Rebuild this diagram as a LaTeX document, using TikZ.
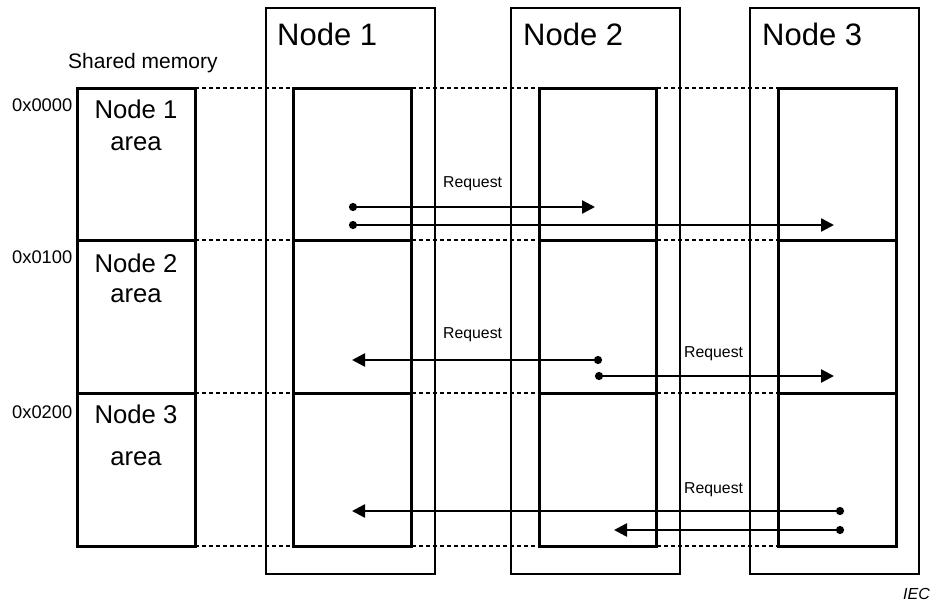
\documentclass[tikz,border=0pt]{standalone}
\usepackage{fontspec}
\setmainfont{Liberation Sans}
\usetikzlibrary{arrows.meta}
\begin{document}
\begin{tikzpicture}[x=1pt,y=-1pt,
 outerbox/.style={draw,line width=1.5pt,inner sep=0,outer sep=0,anchor=north west},
 innerbox/.style={draw,line width=3pt,fill=white,inner sep=0,outer sep=0,anchor=north west},
 divider/.style={line width=3pt},
 sep/.style={line width=1.5pt,dash pattern=on 4pt off 3pt},
 req/.style={line width=2.5pt,{Circle[length=8pt,width=8pt]}-{Triangle[length=13pt,width=13pt]}},
 reqto/.style={line width=2.5pt,-{Triangle[length=13pt,width=13pt]}},
 title/.style={font=\fontsize{31}{31}\selectfont,anchor=base west,inner sep=0},
 area/.style={font=\fontsize{25.7}{30}\selectfont,anchor=base,inner sep=0},
 addr/.style={font=\fontsize{18.3}{20}\selectfont,anchor=base west,inner sep=0},
 lbl/.style={font=\fontsize{15.8}{17}\selectfont,anchor=base west,inner sep=0}]
\useasboundingbox[fill=white] (0,0) rectangle (938,603);
% outer node boxes
\node[outerbox,minimum width=169pt,minimum height=566pt] (o1) at (266,8) {};
\node[outerbox,minimum width=169pt,minimum height=566pt] (o2) at (511,8) {};
\node[outerbox,minimum width=169pt,minimum height=566pt] (o3) at (750,8) {};
% dashed address lines
\foreach \yy in {88,240,393,546} \draw[sep] (195,\yy) -- (778,\yy);
% inner boxes
\node[innerbox,minimum width=118pt,minimum height=458pt] (i1) at (293,88) {};
\node[innerbox,minimum width=117pt,minimum height=458pt] (i2) at (539,88) {};
\node[innerbox,minimum width=118pt,minimum height=458pt] (i3) at (778,88) {};
\node[innerbox,minimum width=118pt,minimum height=458pt] (sm) at (77,88) {};
\foreach \xa/\xb in {77/195,293/411,539/656,778/896}{
  \draw[divider] (\xa,240) -- (\xb,240);
  \draw[divider] (\xa,393) -- (\xb,393);
}
% titles
\node[title] (t1) at (277,45) {Node 1};
\node[title] (t2) at (523,45) {Node 2};
\node[title] (t3) at (762,45) {Node 3};
\node[font=\fontsize{21}{21}\selectfont,anchor=base west,inner sep=0] (smt) at (68,68) {Shared memory};
% areas
\node[area] (a1a) at (136,118) {Node 1};
\node[area] (a1b) at (136,150) {area};
\node[area] (a2a) at (136,272) {Node 2};
\node[area] (a2b) at (136,302) {area};
\node[area] (a3a) at (136,423) {Node 3};
\node[area] (a3b) at (136,465) {area};
% addresses
\node[addr] (ad0) at (12,111) {0x0000};
\node[addr] (ad1) at (12,263) {0x0100};
\node[addr] (ad2) at (12,418) {0x0200};
% arrow end points
\coordinate (s1) at (349,207); \coordinate (e1) at (595,207);
\coordinate (s2) at (349,225); \coordinate (e2) at (834,225);
\coordinate (s3) at (602,360); \coordinate (e3) at (352,360);
\coordinate (s4) at (595,376); \coordinate (e4) at (834,376);
\coordinate (s5) at (844,511); \coordinate (e5) at (352,511);
\coordinate (s6) at (844,530); \coordinate (e6) at (614,530);
\foreach \k in {1,...,6} \draw[req] (s\k) -- (e\k);
% labels
\node[lbl] (r1) at (443,187) {Request};
\node[lbl] (r2) at (443,338) {Request};
\node[lbl] (r3) at (684,357) {Request};
\node[lbl] (r4) at (684,493) {Request};
\node[font=\fontsize{16}{16}\selectfont\itshape,anchor=base east,inner sep=0] (iec) at (930,599) {IEC};
\end{tikzpicture}
\end{document}
